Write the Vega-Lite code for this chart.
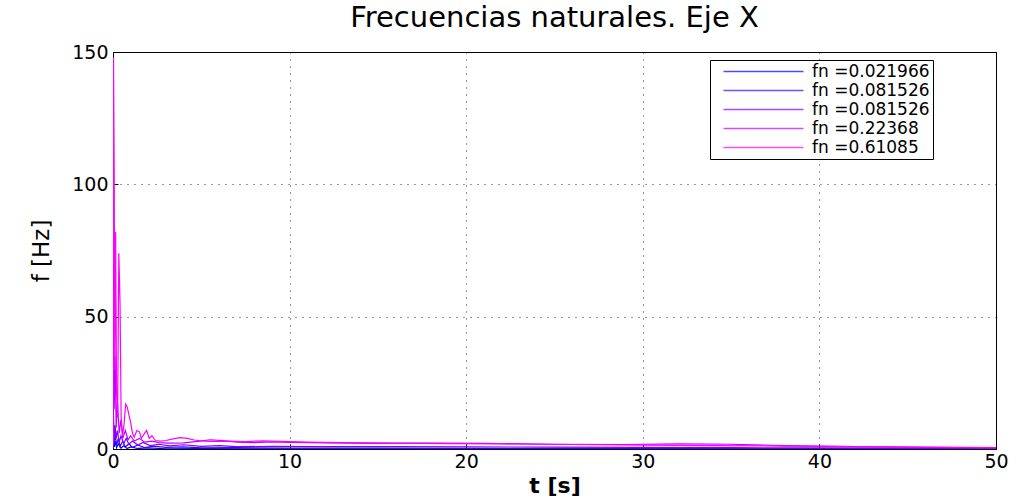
{
  "$schema": "https://vega.github.io/schema/vega-lite/v6.json",
  "width": 883,
  "height": 397,
  "autosize": {"type": "none"},
  "padding": {"left": 113, "top": 52, "right": 18, "bottom": 48},
  "background": "white",
  "config": {
    "view": {"stroke": "black", "strokeWidth": 1},
    "font": "DejaVu Sans"
  },
  "title": {
    "text": "Frecuencias naturales. Eje X",
    "font": "DejaVu Sans",
    "fontSize": 29,
    "fontWeight": "normal",
    "color": "black",
    "offset": 10
  },
  "data": {
    "values": [
      {"s":"1","t":0,"f":0},{"s":"1","t":0.03,"f":5},{"s":"1","t":0.07,"f":0.8},{"s":"1","t":0.12,"f":3},{"s":"1","t":0.2,"f":0.5},{"s":"1","t":0.3,"f":2},{"s":"1","t":0.45,"f":0.3},{"s":"1","t":0.6,"f":1.2},{"s":"1","t":0.8,"f":0.2},{"s":"1","t":1.0,"f":0.8},{"s":"1","t":1.4,"f":0.2},{"s":"1","t":2,"f":0.4},{"s":"1","t":3,"f":0.1},{"s":"1","t":5,"f":0.15},{"s":"1","t":8,"f":0.05},{"s":"1","t":15,"f":0.03},{"s":"1","t":30,"f":0.02},{"s":"1","t":50,"f":0.01},

      {"s":"2","t":0,"f":0.3},{"s":"2","t":0.03,"f":9},{"s":"2","t":0.07,"f":2},{"s":"2","t":0.12,"f":6},{"s":"2","t":0.2,"f":1.5},{"s":"2","t":0.3,"f":4},{"s":"2","t":0.4,"f":1},{"s":"2","t":0.55,"f":3},{"s":"2","t":0.7,"f":0.8},{"s":"2","t":0.9,"f":2},{"s":"2","t":1.1,"f":0.6},{"s":"2","t":1.4,"f":1.5},{"s":"2","t":1.8,"f":0.5},{"s":"2","t":2.3,"f":1.1},{"s":"2","t":3,"f":0.6},{"s":"2","t":4,"f":0.8},{"s":"2","t":5,"f":0.4},{"s":"2","t":7,"f":0.5},{"s":"2","t":10,"f":0.35},{"s":"2","t":15,"f":0.3},{"s":"2","t":20,"f":0.25},{"s":"2","t":30,"f":0.2},{"s":"2","t":40,"f":0.15},{"s":"2","t":50,"f":0.1},

      {"s":"3","t":0,"f":0.5},{"s":"3","t":0.03,"f":13},{"s":"3","t":0.07,"f":3},{"s":"3","t":0.12,"f":9},{"s":"3","t":0.18,"f":4},{"s":"3","t":0.25,"f":7},{"s":"3","t":0.35,"f":2.5},{"s":"3","t":0.45,"f":5},{"s":"3","t":0.6,"f":2},{"s":"3","t":0.75,"f":4},{"s":"3","t":0.9,"f":1.8},{"s":"3","t":1.1,"f":3},{"s":"3","t":1.4,"f":1.5},{"s":"3","t":1.7,"f":2.5},{"s":"3","t":2.1,"f":1.3},{"s":"3","t":2.6,"f":1.8},{"s":"3","t":3.2,"f":1.2},{"s":"3","t":4,"f":1.6},{"s":"3","t":5,"f":1.0},{"s":"3","t":6,"f":1.3},{"s":"3","t":7,"f":0.9},{"s":"3","t":9,"f":1.0},{"s":"3","t":12,"f":0.9},{"s":"3","t":16,"f":0.9},{"s":"3","t":20,"f":0.8},{"s":"3","t":25,"f":0.7},{"s":"3","t":30,"f":0.6},{"s":"3","t":35,"f":0.5},{"s":"3","t":40,"f":0.4},{"s":"3","t":45,"f":0.3},{"s":"3","t":50,"f":0.25},

      {"s":"4","t":0,"f":1},{"s":"4","t":0.03,"f":60},{"s":"4","t":0.07,"f":15},{"s":"4","t":0.12,"f":35},{"s":"4","t":0.18,"f":8},{"s":"4","t":0.25,"f":18},{"s":"4","t":0.35,"f":6},{"s":"4","t":0.45,"f":11},{"s":"4","t":0.55,"f":4},{"s":"4","t":0.7,"f":7},{"s":"4","t":0.85,"f":3.5},{"s":"4","t":1.0,"f":5},{"s":"4","t":1.2,"f":3},{"s":"4","t":1.5,"f":4},{"s":"4","t":1.8,"f":2.6},{"s":"4","t":2.2,"f":3.0},{"s":"4","t":2.6,"f":2.4},{"s":"4","t":3.2,"f":2.2},{"s":"4","t":4,"f":2.3},{"s":"4","t":4.8,"f":2.9},{"s":"4","t":5.5,"f":3.5},{"s":"4","t":6.2,"f":3.2},{"s":"4","t":7,"f":2.6},{"s":"4","t":8,"f":2.4},{"s":"4","t":9,"f":2.7},{"s":"4","t":10,"f":2.5},{"s":"4","t":12,"f":2.3},{"s":"4","t":15,"f":2.1},{"s":"4","t":18,"f":2.2},{"s":"4","t":21,"f":2.1},{"s":"4","t":25,"f":1.8},{"s":"4","t":29,"f":1.7},{"s":"4","t":32,"f":1.9},{"s":"4","t":35,"f":1.8},{"s":"4","t":38,"f":1.3},{"s":"4","t":42,"f":0.9},{"s":"4","t":46,"f":0.6},{"s":"4","t":50,"f":0.4},

      {"s":"5","t":0,"f":2},{"s":"5","t":0.03,"f":148},{"s":"5","t":0.07,"f":103},{"s":"5","t":0.1,"f":30},{"s":"5","t":0.15,"f":82},{"s":"5","t":0.2,"f":22},{"s":"5","t":0.26,"f":12},{"s":"5","t":0.33,"f":74},{"s":"5","t":0.4,"f":55},{"s":"5","t":0.46,"f":12},{"s":"5","t":0.55,"f":5},{"s":"5","t":0.62,"f":9},{"s":"5","t":0.72,"f":17},{"s":"5","t":0.8,"f":16},{"s":"5","t":0.9,"f":13},{"s":"5","t":1.0,"f":10},{"s":"5","t":1.1,"f":6},{"s":"5","t":1.2,"f":4.5},{"s":"5","t":1.35,"f":7},{"s":"5","t":1.5,"f":6.5},{"s":"5","t":1.6,"f":4},{"s":"5","t":1.75,"f":5.5},{"s":"5","t":1.9,"f":7},{"s":"5","t":2.05,"f":4},{"s":"5","t":2.2,"f":5},{"s":"5","t":2.4,"f":3.2},{"s":"5","t":2.7,"f":3.0},{"s":"5","t":3.0,"f":3.2},{"s":"5","t":3.4,"f":3.8},{"s":"5","t":3.8,"f":4.3},{"s":"5","t":4.2,"f":4.0},{"s":"5","t":4.6,"f":3.4},{"s":"5","t":5.0,"f":3.1},{"s":"5","t":5.5,"f":2.9},{"s":"5","t":6.5,"f":3.0},{"s":"5","t":7.5,"f":2.8},{"s":"5","t":8.5,"f":3.1},{"s":"5","t":9.5,"f":2.9},{"s":"5","t":11,"f":2.6},{"s":"5","t":13,"f":2.4},{"s":"5","t":16,"f":2.2},{"s":"5","t":19,"f":2.0},{"s":"5","t":22,"f":1.9},{"s":"5","t":26,"f":1.7},{"s":"5","t":30,"f":1.5},{"s":"5","t":34,"f":1.3},{"s":"5","t":38,"f":1.1},{"s":"5","t":42,"f":0.9},{"s":"5","t":46,"f":0.7},{"s":"5","t":50,"f":0.5}
    ]
  },
  "mark": {"type": "line", "strokeWidth": 1.2, "clip": true},
  "encoding": {
    "x": {
      "field": "t", "type": "quantitative",
      "scale": {"domain": [0, 50], "nice": false, "zero": false},
      "axis": {
        "values": [0, 10, 20, 30, 40, 50],
        "labelFlush": false,
        "title": "t [s]",
        "titleFont": "DejaVu Sans", "titleFontSize": 22, "titleFontWeight": "bold", "titleColor": "black", "titlePadding": 4,
        "labelFont": "DejaVu Sans", "labelFontSize": 19, "labelColor": "black", "labelPadding": 8,
        "domainColor": "black", "tickColor": "black", "tickSize": -5,
        "grid": true, "gridColor": "black", "gridDash": [1, 6], "gridOpacity": 0.8
      }
    },
    "y": {
      "field": "f", "type": "quantitative",
      "scale": {"domain": [0, 150], "nice": false},
      "axis": {
        "values": [0, 50, 100, 150],
        "labelFlush": false,
        "title": "f [Hz]",
        "titleFont": "DejaVu Sans", "titleFontSize": 23, "titleFontWeight": "normal", "titleColor": "black", "titlePadding": 18,
        "labelFont": "DejaVu Sans", "labelFontSize": 19, "labelColor": "black", "labelPadding": 10,
        "domainColor": "black", "tickColor": "black", "tickSize": -5,
        "grid": true, "gridColor": "black", "gridDash": [1, 6], "gridOpacity": 0.8
      }
    },
    "color": {
      "field": "s", "type": "nominal",
      "scale": {"domain": ["1","2","3","4","5"], "range": ["#0000ff","#4000ff","#8000ff","#bf00ff","#ff00ff"]},
      "legend": {
        "title": null,
        "orient": "none",
        "legendX": 597,
        "legendY": 8,
        "labelExpr": "['fn =0.021966','fn =0.081526','fn =0.081526','fn =0.22368','fn =0.61085'][toNumber(datum.value)-1]",
        "symbolType": "M-10,0H10",
        "symbolSize": 64,
        "symbolStrokeWidth": 1.5,
        "symbolOpacity": 0.7,
        "symbolOffset": 42,
        "labelOffset": 40,
        "labelFont": "DejaVu Sans",
        "labelFontSize": 17,
        "labelColor": "black",
        "padding": 3,
        "rowPadding": 1,
        "strokeColor": "black",
        "fillColor": "white"
      }
    }
  }
}
